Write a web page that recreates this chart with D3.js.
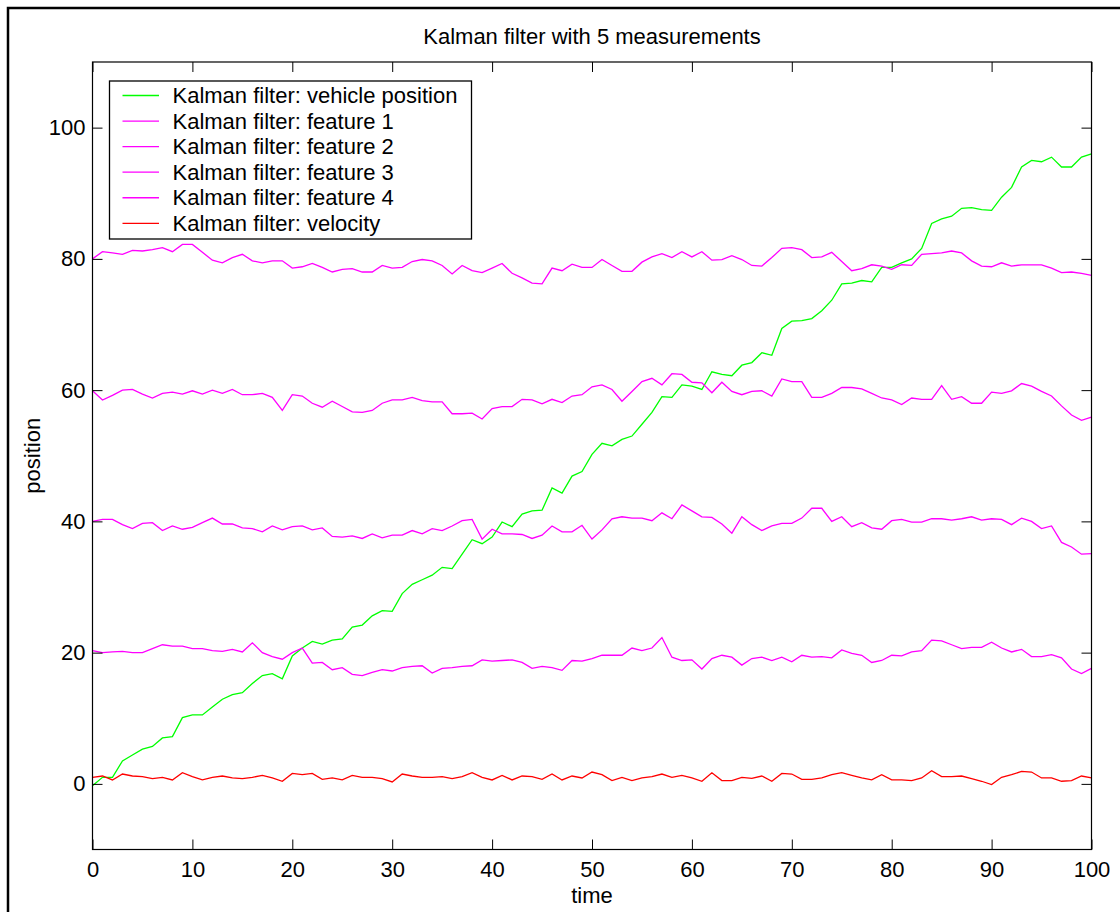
<!DOCTYPE html>
<html>
<head>
<meta charset="utf-8">
<script src="https://cdn.jsdelivr.net/npm/d3@7"></script>
<style>
  html, body { margin: 0; padding: 0; background: #fff; }
  svg { display: block; }
  text { font-family: "Liberation Sans", Arial, Helvetica, sans-serif; fill: #000; }
</style>
</head>
<body>
<svg id="chart" width="1120" height="912"></svg>
<script>
// ---------------- data ----------------
const time = d3.range(0, 101);

const vehiclePosition = [
  -0.3, 1.0, 1.0, 3.5, 4.4, 5.3, 5.7, 7.0, 7.2, 10.1,
  10.5, 10.5, 11.7, 12.9, 13.6, 13.9, 15.3, 16.5, 16.8, 16.0,
  19.5, 20.7, 21.7, 21.3, 21.9, 22.1, 23.9, 24.2, 25.6, 26.4,
  26.3, 29.0, 30.4, 31.1, 31.8, 33.0, 32.8, 35.0, 37.2, 36.6,
  37.6, 39.9, 39.2, 41.1, 41.6, 41.7, 45.1, 44.3, 46.9, 47.6,
  50.2, 51.9, 51.5, 52.5, 53.0, 54.8, 56.6, 59.0, 58.9, 60.8,
  60.6, 60.1, 62.8, 62.4, 62.2, 63.8, 64.2, 65.7, 65.3, 69.4,
  70.5, 70.6, 70.9, 72.1, 73.7, 76.2, 76.3, 76.7, 76.5, 78.7,
  78.7, 79.4, 80.0, 81.6, 85.4, 86.1, 86.5, 87.7, 87.8, 87.5,
  87.4, 89.4, 90.9, 94.0, 95.0, 94.8, 95.5, 94.0, 94.0, 95.5,
  96.0
];

const feature1 = [
  20.3, 20.0, 20.1, 20.2, 20.0, 20.0, 20.6, 21.2, 21.0, 21.0,
  20.6, 20.6, 20.3, 20.2, 20.5, 20.1, 21.5, 20.0, 19.4, 19.0,
  20.0, 20.7, 18.4, 18.5, 17.4, 17.7, 16.7, 16.5, 17.0, 17.4,
  17.2, 17.7, 17.9, 18.0, 16.9, 17.6, 17.7, 17.9, 18.0, 18.9,
  18.7, 18.8, 18.9, 18.5, 17.6, 17.9, 17.7, 17.3, 18.8, 18.7,
  19.1, 19.6, 19.6, 19.6, 20.7, 20.3, 20.7, 22.3, 19.3, 18.8,
  18.9, 17.5, 19.1, 19.6, 19.3, 18.1, 19.1, 19.3, 18.8, 19.3,
  18.6, 19.6, 19.3, 19.4, 19.2, 20.4, 19.9, 19.6, 18.5, 18.8,
  19.6, 19.5, 20.1, 20.3, 21.9, 21.8, 21.2, 20.6, 20.8, 20.8,
  21.6, 20.7, 20.1, 20.5, 19.4, 19.4, 19.7, 19.2, 17.5, 16.8,
  17.6
];

const feature2 = [
  40.0, 40.3, 40.3, 39.5, 38.9, 39.7, 39.8, 38.6, 39.3, 38.8,
  39.1, 39.8, 40.5, 39.6, 39.6, 39.0, 38.9, 38.4, 39.3, 38.7,
  39.2, 39.3, 38.7, 39.0, 37.7, 37.6, 37.8, 37.4, 38.1, 37.5,
  37.9, 37.9, 38.6, 38.1, 38.9, 38.6, 39.3, 40.1, 40.3, 37.3,
  38.8, 38.1, 38.1, 38.0, 37.4, 37.9, 39.3, 38.4, 38.4, 39.4,
  37.3, 38.7, 40.4, 40.7, 40.5, 40.5, 40.1, 41.3, 40.4, 42.5,
  41.6, 40.7, 40.6, 39.6, 38.2, 40.7, 39.5, 38.6, 39.3, 39.7,
  39.7, 40.5, 42.0, 42.0, 40.0, 40.7, 39.2, 39.8, 39.0, 38.8,
  40.1, 40.3, 39.9, 39.9, 40.4, 40.4, 40.2, 40.4, 40.7, 40.2,
  40.4, 40.3, 39.5, 40.5, 40.0, 38.9, 39.3, 36.8, 36.1, 35.0,
  35.1
];

const feature3 = [
  59.9, 58.5, 59.2, 60.0, 60.1, 59.4, 58.8, 59.5, 59.7, 59.4,
  59.9, 59.4, 60.0, 59.5, 60.1, 59.3, 59.3, 59.5, 58.9, 56.9,
  59.3, 59.1, 58.0, 57.4, 58.3, 57.5, 56.7, 56.6, 56.9, 58.0,
  58.5, 58.5, 58.9, 58.4, 58.2, 58.2, 56.4, 56.4, 56.5, 55.6,
  57.2, 57.5, 57.5, 58.6, 58.5, 57.9, 58.6, 58.1, 59.1, 59.3,
  60.5, 60.8, 60.1, 58.3, 59.8, 61.3, 61.8, 60.8, 62.5, 62.4,
  61.2, 61.1, 59.6, 61.2, 59.8, 59.3, 59.8, 59.9, 59.1, 61.7,
  61.3, 61.3, 58.9, 58.9, 59.5, 60.4, 60.4, 60.2, 59.5, 58.8,
  58.5, 57.8, 58.8, 58.6, 58.6, 60.7, 58.6, 59.0, 58.0, 58.0,
  59.7, 59.5, 59.9, 61.0, 60.6, 59.8, 59.1, 57.6, 56.2, 55.4,
  55.9
];

const feature4 = [
  80.0, 81.1, 80.9, 80.7, 81.3, 81.2, 81.4, 81.7, 81.1, 82.2,
  82.2, 81.0, 79.8, 79.4, 80.2, 80.7, 79.7, 79.4, 79.7, 79.7,
  78.6, 78.8, 79.3, 78.7, 78.0, 78.4, 78.5, 78.0, 78.0, 79.0,
  78.6, 78.7, 79.6, 79.9, 79.7, 79.0, 77.7, 79.0, 78.2, 77.9,
  78.6, 79.3, 77.8, 77.1, 76.3, 76.2, 78.6, 78.2, 79.2, 78.7,
  78.7, 79.9, 79.0, 78.1, 78.1, 79.5, 80.3, 80.8, 80.2, 81.1,
  80.3, 81.1, 79.8, 79.9, 80.5, 79.9, 79.0, 78.9, 80.2, 81.6,
  81.7, 81.4, 80.2, 80.3, 81.0, 79.6, 78.2, 78.5, 79.1, 78.9,
  78.4, 79.1, 79.0, 80.7, 80.8, 80.9, 81.2, 80.9, 79.7, 78.9,
  78.8, 79.4, 78.9, 79.1, 79.1, 79.1, 78.6, 77.9, 78.0, 77.8,
  77.5
];

const velocity = [
  1.0, 1.2, 0.6, 1.5, 1.2, 1.1, 0.8, 1.0, 0.6, 1.7,
  1.1, 0.6, 1.0, 1.2, 0.9, 0.8, 1.0, 1.3, 0.9, 0.4,
  1.6, 1.4, 1.6, 0.7, 0.9, 0.6, 1.3, 1.0, 1.0, 0.8,
  0.3, 1.5, 1.2, 1.0, 1.0, 1.1, 0.8, 1.1, 1.7, 1.0,
  0.6, 1.3, 0.6, 1.2, 1.1, 0.7, 1.5, 0.6, 1.2, 0.9,
  1.8, 1.4, 0.5, 1.0, 0.5, 0.9, 1.1, 1.5, 1.0, 1.3,
  0.9, 0.4, 1.7, 0.5, 0.5, 1.0, 0.85, 1.2, 0.4, 1.6,
  1.5, 0.7, 0.7, 0.9, 1.4, 1.7, 1.3, 0.9, 0.6, 1.4,
  0.6, 0.6, 0.5, 0.9, 2.0, 1.1, 1.1, 1.2, 0.8, 0.4,
  -0.1, 1.0, 1.4, 1.9, 1.8, 0.9, 0.9, 0.4, 0.5, 1.2,
  0.9
];

const seriesNames = [
  "Kalman filter: vehicle position",
  "Kalman filter: feature 1",
  "Kalman filter: feature 2",
  "Kalman filter: feature 3",
  "Kalman filter: feature 4",
  "Kalman filter: velocity"
];
const seriesColors = ["#00ff00", "#ff00ff", "#ff00ff", "#ff00ff", "#ff00ff", "#ff0000"];
const seriesValues = [vehiclePosition, feature1, feature2, feature3, feature4, velocity];

const xTicks = [0, 10, 20, 30, 40, 50, 60, 70, 80, 90, 100];
const yTicks = [0, 20, 40, 60, 80, 100];

const titleText = "Kalman filter with 5 measurements";
const xLabel = "time";
const yLabel = "position";

// ---------------- layout ----------------
(function draw() {
  const svg = d3.select("#chart");
  const FONT = 22;
  const pL = 92.5, pR = 1091.5, pT = 62, pB = 849.5;

  const x = d3.scaleLinear().domain([0, 100]).range([pL, pR]);
  const y = d3.scaleLinear().domain([-10, 110]).range([pB, pT]);

  // outer figure frame (top and left edges visible)
  svg.append("rect")
    .attr("x", 8).attr("y", 8).attr("width", 1300).attr("height", 1100)
    .attr("fill", "none").attr("stroke", "#000").attr("stroke-width", 2.5);

  // lines
  svg.append("clipPath").attr("id", "plotclip")
    .append("rect").attr("x", pL).attr("y", pT)
    .attr("width", pR - pL).attr("height", pB - pT);

  const lineGen = vals => d3.line()
    .x((d, i) => x(time[i]))
    .y(d => y(d))(vals);

  const linesG = svg.append("g").attr("clip-path", "url(#plotclip)");
  seriesValues.forEach((vals, k) => {
    linesG.append("path")
      .attr("d", lineGen(vals))
      .attr("fill", "none")
      .attr("stroke", seriesColors[k])
      .attr("stroke-width", 1.3)
      .attr("stroke-linejoin", "miter");
  });

  function styleAxis(g) {
    g.attr("font-family", null).attr("font-size", null);
    g.select(".domain").remove();
    g.selectAll(".tick line").attr("stroke", "#000").attr("stroke-width", 1);
    g.selectAll(".tick text")
      .style("font-family", '"Liberation Sans", Arial, Helvetica, sans-serif')
      .style("font-size", FONT + "px").attr("fill", "#000");
  }

  svg.append("g").attr("transform", `translate(0,${pB})`)
    .call(d3.axisBottom(x).tickValues(xTicks).tickSizeInner(-10).tickSizeOuter(0).tickPadding(12))
    .call(styleAxis);
  svg.append("g").attr("transform", `translate(0,${pT})`)
    .call(d3.axisTop(x).tickValues(xTicks).tickSizeInner(-10).tickSizeOuter(0).tickFormat(""))
    .call(styleAxis);
  svg.append("g").attr("transform", `translate(${pL},0)`)
    .call(d3.axisLeft(y).tickValues(yTicks).tickSizeInner(-10).tickSizeOuter(0).tickPadding(7))
    .call(styleAxis);
  svg.append("g").attr("transform", `translate(${pR},0)`)
    .call(d3.axisRight(y).tickValues(yTicks).tickSizeInner(-10).tickSizeOuter(0).tickFormat(""))
    .call(styleAxis);

  svg.append("rect")
    .attr("x", pL).attr("y", pT).attr("width", pR - pL).attr("height", pB - pT)
    .attr("fill", "none").attr("stroke", "#000").attr("stroke-width", 1.2);

  svg.append("text").attr("x", (pL + pR) / 2).attr("y", 43.5)
    .attr("text-anchor", "middle").style("font-size", FONT + "px").text(titleText);
  svg.append("text").attr("x", (pL + pR) / 2).attr("y", 903)
    .attr("text-anchor", "middle").style("font-size", FONT + "px").text(xLabel);
  svg.append("text")
    .attr("transform", `translate(40,${(pT + pB) / 2}) rotate(-90)`)
    .attr("text-anchor", "middle").style("font-size", FONT + "px").text(yLabel);

  const lg = svg.append("g");
  lg.append("rect").attr("x", 109.5).attr("y", 81).attr("width", 362).attr("height", 158)
    .attr("fill", "#fff").attr("stroke", "#000").attr("stroke-width", 1.3);
  const rowY = d3.scaleLinear().domain([0, 5]).range([95.5, 223.3]);
  seriesNames.forEach((name, k) => {
    const cy = rowY(k);
    lg.append("line").attr("x1", 122.5).attr("x2", 159).attr("y1", cy).attr("y2", cy)
      .attr("stroke", seriesColors[k]).attr("stroke-width", 1.3);
    lg.append("text").attr("x", 172.5).attr("y", cy + 7.7)
      .style("font-size", FONT + "px").text(name);
  });
})();
</script>
</body>
</html>
